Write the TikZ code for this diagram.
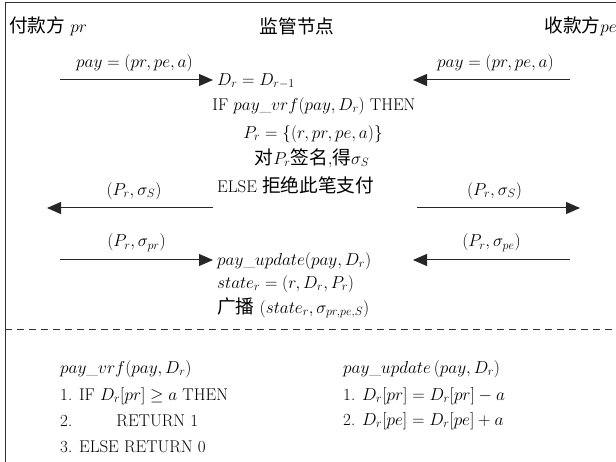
\documentclass[tikz,border=0pt]{standalone}
\usepackage{fontspec}
\usepackage{amsmath}
\newfontfamily\cjk{Noto Sans CJK SC}[Scale=1.1]
\usetikzlibrary{arrows.meta}
\newcommand{\zh}[1]{{\cjk #1}}
\tikzset{
  txt/.style={inner sep=0pt, font=\fontsize{17}{20}\selectfont},
  msg/.style={draw=black!85, line width=1pt, -{Triangle[length=14pt,width=12pt]}},
  frame/.style={draw=black!80, line width=1pt}
}
\begin{document}
\begin{tikzpicture}[x=1pt,y=-1pt]
\useasboundingbox (0,0) rectangle (616,462);
\draw[frame] (5,462) -- (5,3) -- (616,3);
% headers
\node[txt, anchor=west] (payer) at (9,26) {\zh{付款方} $pr$};
\node[txt] (sup) at (297,26) {\zh{监管节点}};
\node[txt, anchor=east] (payee) at (617,26) {\zh{收款方}$pe$};
% step 1
\coordinate (a1s) at (60,80);
\coordinate (a1e) at (213,80);
\draw[msg] (a1s) -- (a1e) node[txt, midway, above=8pt, xshift=-2pt] (l1) {$pay=(pr,pe,a)$};
\node[txt, anchor=west] (d1) at (217,81) {$D_r=D_{r-1}$};
\coordinate (a2s) at (570,80);
\coordinate (a2e) at (413,80);
\draw[msg] (a2s) -- (a2e) node[txt, midway, above=8pt, xshift=4pt] (l2) {$pay=(pr,pe,a)$};
\node[txt] (if) at (314,106) {IF $pay\_vrf(pay,D_r)$ THEN};
\node[txt] (pr) at (313,134) {$P_r=\{(r,pr,pe,a)\}$};
\node[txt] (sg) at (312,158) {\zh{对}$P_r$\zh{签名}$,$\zh{得}$\sigma_S$};
\node[txt, anchor=west] (el) at (217,185) {ELSE \zh{拒绝此笔支付}};
% step 2
\coordinate (a3s) at (213,208);
\coordinate (a3e) at (47,208);
\draw[msg] (a3s) -- (a3e) node[txt, midway, above=8pt, xshift=4pt] (l3) {$(P_r,\sigma_S)$};
\coordinate (a4s) at (417,208);
\coordinate (a4e) at (580,208);
\draw[msg] (a4s) -- (a4e) node[txt, midway, above=8pt, xshift=-4pt] (l4) {$(P_r,\sigma_S)$};
% step 3
\coordinate (a5s) at (60,260);
\coordinate (a5e) at (213,260);
\draw[msg] (a5s) -- (a5e) node[txt, midway, above=8pt] (l5) {$(P_r,\sigma_{pr})$};
\coordinate (a6s) at (570,260);
\coordinate (a6e) at (413,260);
\draw[msg] (a6s) -- (a6e) node[txt, midway, above=8pt] (l6) {$(P_r,\sigma_{pe})$};
\node[txt, anchor=west] (up) at (217,261) {$pay\_update(pay,D_r)$};
\node[txt, anchor=west] (st) at (217,284) {$state_r=(r,D_r,P_r)$};
\node[txt, anchor=west] (bc) at (217,308) {\zh{广播} $(state_r,\sigma_{pr,pe,S})$};
% separator
\coordinate (ds) at (5,330);
\coordinate (de) at (616,330);
\draw[draw=black!80, line width=1pt, dash pattern=on 7pt off 5pt] (ds) -- (de);
% bottom left
\node[txt, anchor=west] (v0) at (60,369) {$pay\_vrf(pay,D_r)$};
\node[txt, anchor=west] (v1) at (60,396) {1. IF $D_r[pr]\geq a$ THEN};
\node[txt, anchor=west] (v2) at (60,421) {2.\hspace{2.6em}RETURN 1};
\node[txt, anchor=west] (v3) at (60,447) {3. ELSE RETURN 0};
% bottom right
\node[txt, anchor=west] (u0) at (343,369) {$pay\_update\,(pay,D_r)$};
\node[txt, anchor=west] (u1) at (343,396) {1. $D_r[pr]=D_r[pr]-a$};
\node[txt, anchor=west] (u2) at (343,421) {2. $D_r[pe]=D_r[pe]+a$};
\end{tikzpicture}
\end{document}
